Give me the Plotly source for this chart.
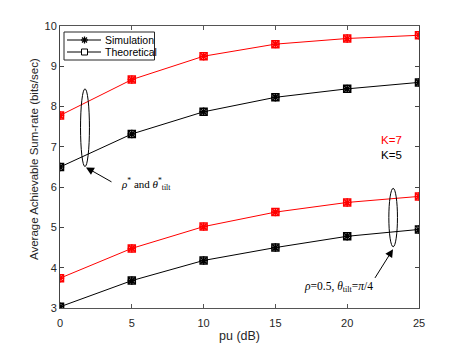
import plotly.graph_objects as go

pu = [0, 5, 10, 15, 20, 25]
k7_opt = [7.78, 8.67, 9.25, 9.55, 9.69, 9.77]
k5_opt = [6.50, 7.32, 7.87, 8.23, 8.44, 8.60]
k7_fix = [3.74, 4.48, 5.02, 5.38, 5.62, 5.77]
k5_fix = [3.03, 3.68, 4.18, 4.50, 4.78, 4.95]
legend_names = ["Simulation", "Theoretical"]
x_title = "pu (dB)"
y_title = "Average Achievable Sum-rate (bits/sec)"

# plot area geometry in pixels (used only for hand-placed decorations)
PL, PT, PW, PH = 52, 18, 359, 282


def px(x):
    return (x - 60) / PW


def py(y):
    return (308 - y) / PH


fig = go.Figure()
series = [(k7_opt, "#ff0000"), (k5_opt, "#000000"), (k7_fix, "#ff0000"), (k5_fix, "#000000")]
for ys, c in series:
    fig.add_trace(go.Scatter(x=pu, y=ys, mode="lines+markers", showlegend=False,
                             line=dict(color=c, width=1),
                             marker=dict(symbol="square-open", size=7, color=c, line=dict(width=1.5, color=c))))
    fig.add_trace(go.Scatter(x=pu, y=ys, mode="markers", showlegend=False,
                             marker=dict(symbol="asterisk-open", size=7, color=c, line=dict(width=1.5, color=c))))

axcol = "#262626"
fig.update_xaxes(range=[0, 25], dtick=5, ticks="inside", ticklen=4, mirror="ticks", showline=True,
                 linecolor="#555555", linewidth=1, tickcolor="#555555", showgrid=False, zeroline=False,
                 ticklabelstandoff=5, tickfont=dict(size=11, color=axcol))
fig.update_yaxes(range=[3, 10], dtick=1, ticks="inside", ticklen=4, mirror="ticks", showline=True,
                 linecolor="#444444", linewidth=1, tickcolor="#444444", showgrid=False, zeroline=False,
                 tickfont=dict(size=11, color=axcol))

# axis titles
fig.add_annotation(x=0.5, y=py(336), xref="paper", yref="paper", showarrow=False, text=x_title,
                   xanchor="center", yanchor="middle", font=dict(size=12.5, color=axcol))
fig.add_annotation(x=px(34), y=py(159), xref="paper", yref="paper", showarrow=False, text=y_title,
                   textangle=-90, xanchor="center", yanchor="middle", font=dict(size=11.5, color=axcol))

# ellipses
fig.add_shape(type="circle", xref="x", yref="y", x0=1.43, x1=2.05, y0=6.51, y1=8.44,
              line=dict(color="black", width=1))
fig.add_shape(type="circle", xref="x", yref="y", x0=22.9, x1=23.5, y0=4.52, y1=5.97,
              line=dict(color="black", width=1))

# arrows
fig.add_annotation(x=1.81, y=6.49, ax=3.69, ay=6.11, xref="x", yref="y", axref="x", ayref="y",
                   text="", showarrow=True, arrowhead=2, arrowsize=1.6, arrowwidth=1, arrowcolor="black")
fig.add_annotation(x=23.19, y=4.46, ax=21.87, ay=3.71, xref="x", yref="y", axref="x", ayref="y",
                   text="", showarrow=True, arrowhead=2, arrowsize=1.6, arrowwidth=1, arrowcolor="black")

serif = "Liberation Serif"
fig.add_annotation(x=6.0, y=6.08, xref="x", yref="y", showarrow=False,
                   text="<i>ρ</i><sup>*</sup> and <i>θ</i><sup>*</sup><sub>tilt</sub>",
                   font=dict(family=serif, size=11, color="black"))
fig.add_annotation(x=19.4, y=3.52, xref="x", yref="y", showarrow=False,
                   text="<i>ρ</i>=0.5, <i>θ</i><sub>tilt</sub>=<i>π</i>/4",
                   font=dict(family=serif, size=11.5, color="black"))
fig.add_annotation(x=23.1, y=7.16, xref="x", yref="y", showarrow=False, text="K=7",
                   font=dict(size=11.5, color="#ff0000"))
fig.add_annotation(x=23.1, y=6.81, xref="x", yref="y", showarrow=False, text="K=5",
                   font=dict(size=11.5, color="black"))

# hand-drawn legend (MATLAB-style compact box)
fig.add_shape(type="rect", xref="paper", yref="paper", x0=px(64), x1=px(154.5), y0=py(32), y1=py(60),
              line=dict(color=axcol, width=1), fillcolor="white", layer="above")
rows = [40, 52]
for name, yr, sym in zip(legend_names, rows, ["asterisk", "square"]):
    fig.add_shape(type="line", xref="paper", yref="paper", x0=px(67), x1=px(101), y0=py(yr), y1=py(yr),
                  line=dict(color="black", width=1), layer="above")
    if sym == "square":
        fig.add_shape(type="rect", xref="paper", yref="paper", x0=px(81.5), x1=px(87.5),
                      y0=py(yr - 3), y1=py(yr + 3), line=dict(color="black", width=1),
                      fillcolor="white", layer="above")
    else:
        for dx, dy in [(3.5, 0), (0, 3.5), (2.5, 2.5), (2.5, -2.5)]:
            fig.add_shape(type="line", xref="paper", yref="paper", x0=px(84.5 - dx), x1=px(84.5 + dx),
                          y0=py(yr - dy), y1=py(yr + dy), line=dict(color="black", width=1.3), layer="above")
    fig.add_annotation(x=px(103), y=py(yr), xref="paper", yref="paper", xanchor="left", yanchor="middle",
                       showarrow=False, text=name, font=dict(size=10.5, color="black"))

fig.update_layout(width=455, height=340, margin=dict(l=PL, r=44, t=PT, b=40),
                  plot_bgcolor="white", paper_bgcolor="white",
                  font=dict(family="Liberation Sans", size=11, color=axcol),
                  showlegend=False)

fig.write_html("out.html")
